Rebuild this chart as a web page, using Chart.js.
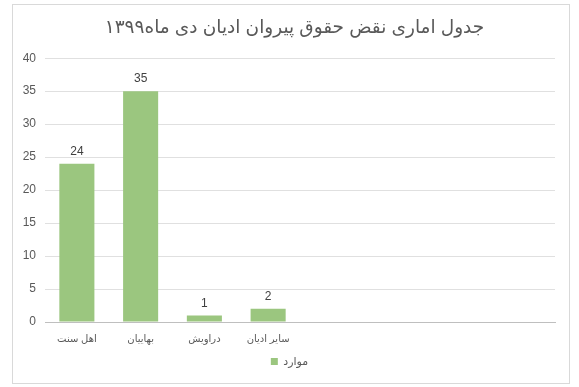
<!DOCTYPE html>
<html>
<head>
<meta charset="utf-8">
<script src="https://cdn.jsdelivr.net/npm/chart.js@4"></script>
<style>
  html, body { margin: 0; padding: 0; background: #fff; }
  #wrap { position: absolute; left: 12px; top: 4px; width: 556px; height: 378px; border: 1px solid #d9d9d9; }
  canvas { position: absolute; left: 0; top: 0; }
</style>
</head>
<body>
<div id="wrap"></div>
<canvas id="chart" width="579" height="387"></canvas>
<script>
// valeurs
const titre = "جدول اماری نقض حقوق پیروان ادیان دی ماه۱۳۹۹";
const categories = ["اهل سنت", "بهاییان", "دراویش", "سایر ادیان", "", "", "", ""];
const valeurs = [24, 35, 1, 2, null, null, null, null];
const nomSerie = "موارد";
const yTicks = [0, 5, 10, 15, 20, 25, 30, 35, 40];

const police = "'Liberation Sans', 'DejaVu Sans', sans-serif";

// etiquettes au-dessus des barres
const etiquettes = {
    id: "etiquettes",
    afterLayout(chart) {
        // titre et legende un peu decales vers la droite
        chart.titleBlock.left += 10;
        chart.titleBlock.right += 10;
        chart.legend.left += 5;
        chart.legend.right += 5;
    },
    afterDatasetsDraw(chart) {
        const ctx = chart.ctx;
        const meta = chart.getDatasetMeta(0);
        ctx.save();
        ctx.font = "12px " + police;
        ctx.fillStyle = "#404040";
        ctx.textAlign = "center";
        ctx.textBaseline = "bottom";
        meta.data.forEach(function (bar, i) {
            if (valeurs[i] === null) return;
            ctx.fillText(String(valeurs[i]), bar.x, bar.y - 6);
        });
        ctx.restore();
    }
};

let graphe = new Chart(document.getElementById("chart"), {
    type: "bar",
    data: {
        labels: categories,
        datasets: [
            {
                label: nomSerie,
                data: valeurs,
                backgroundColor: "#9bc67f",
                borderWidth: 0,
                categoryPercentage: 1,
                barPercentage: 0.55,
            },
        ],
    },
    options: {
        responsive: false,
        animation: false,
        layout: {
            padding: { left: 14, right: 24, top: 4, bottom: 10 }
        },
        plugins: {
            title: {
                display: true,
                text: titre,
                color: "#595959",
                font: { family: police, size: 18.5, weight: "normal" },
                padding: { top: 13, bottom: 19 }
            },
            legend: {
                position: "bottom",
                labels: {
                    color: "#595959",
                    font: { family: police, size: 11 },
                    boxWidth: 7,
                    boxHeight: 7,
                    padding: 6
                }
            },
            tooltip: { enabled: false }
        },
        scales: {
            x: {
                grid: { display: false, drawTicks: false },
                border: { color: "#bfbfbf", width: 1 },
                ticks: {
                    color: "#595959",
                    font: { family: police, size: 10 },
                    padding: 11,
                    maxRotation: 0,
                    autoSkip: false
                },
                afterFit: function (scale) { scale.height = 28; }
            },
            y: {
                min: 0,
                max: 40,
                afterBuildTicks: function (scale) {
                    scale.ticks = yTicks.map(function (v) { return { value: v }; });
                },
                grid: { color: "#e0e0e0", drawTicks: false },
                border: { display: false },
                ticks: {
                    color: "#595959",
                    font: { family: police, size: 12 },
                    padding: 9
                },
                afterFit: function (scale) { scale.width = 31; }
            }
        }
    },
    plugins: [etiquettes]
});
</script>
</body>
</html>
